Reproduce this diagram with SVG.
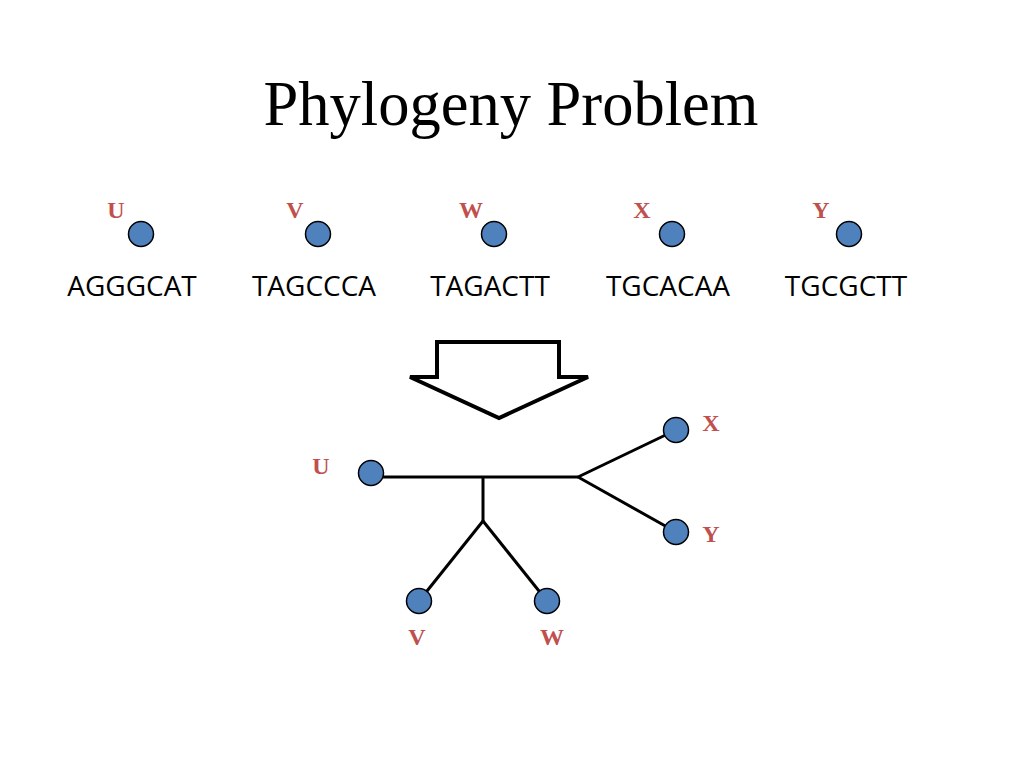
<svg xmlns="http://www.w3.org/2000/svg" width="1024" height="768" viewBox="0 0 1024 768">
<style>
.title{font-family:"Liberation Serif",serif;font-size:62.5px;fill:#000;text-anchor:middle}
.lbl{font-family:"Liberation Serif",serif;font-size:24px;font-weight:bold;fill:#C0504D;text-anchor:middle}
.seq{font-family:"Open Sans","Noto Sans",sans-serif;font-size:28px;fill:#000;text-anchor:middle}
.dot{fill:#4F81BD;stroke:#000;stroke-width:1.5}
.edge{stroke:#000;stroke-width:3;fill:none}
</style>
<rect width="1024" height="768" fill="#fff"/>
<text class="title" x="511" y="125">Phylogeny Problem</text>
<g id="seqU"><text class="lbl" x="116" y="218">U</text><circle class="dot" cx="141" cy="234" r="12.5"/><text class="seq" x="132" y="296">AGGGCAT</text></g>
<g id="seqV"><text class="lbl" x="295" y="218">V</text><circle class="dot" cx="318" cy="234" r="12.5"/><text class="seq" x="314" y="296">TAGCCCA</text></g>
<g id="seqW"><text class="lbl" x="471" y="218">W</text><circle class="dot" cx="494" cy="234" r="12.5"/><text class="seq" x="490" y="296">TAGACTT</text></g>
<g id="seqX"><text class="lbl" x="642" y="218">X</text><circle class="dot" cx="672" cy="234" r="12.5"/><text class="seq" x="668" y="296">TGCACAA</text></g>
<g id="seqY"><text class="lbl" x="821" y="218">Y</text><circle class="dot" cx="849" cy="234" r="12.5"/><text class="seq" x="846" y="296">TGCGCTT</text></g>
<g id="arrow"><path d="M437,342 L559,342 L559,377 L588,377 L499,418 L410,377 L437,377 Z" fill="#fff" stroke="#000" stroke-width="4" stroke-linejoin="miter"/></g>
<g id="connectors">
<path class="edge" d="M371,477 L578,477"/>
<path class="edge" d="M483,477 L483,521"/>
<path class="edge" d="M483,521 L419,601"/>
<path class="edge" d="M483,521 L547,601"/>
<path class="edge" d="M578,477 L676,430"/>
<path class="edge" d="M578,477 L676,532"/>
</g>
<g id="treeU"><circle class="dot" cx="371" cy="473" r="12.5"/><text class="lbl" x="321" y="474">U</text></g>
<g id="treeV"><circle class="dot" cx="419" cy="601" r="12.5"/><text class="lbl" x="417" y="645">V</text></g>
<g id="treeW"><circle class="dot" cx="547" cy="601" r="12.5"/><text class="lbl" x="552" y="645">W</text></g>
<g id="treeX"><circle class="dot" cx="676" cy="430" r="12.5"/><text class="lbl" x="711" y="431">X</text></g>
<g id="treeY"><circle class="dot" cx="676" cy="532" r="12.5"/><text class="lbl" x="711" y="542">Y</text></g>
</svg>
